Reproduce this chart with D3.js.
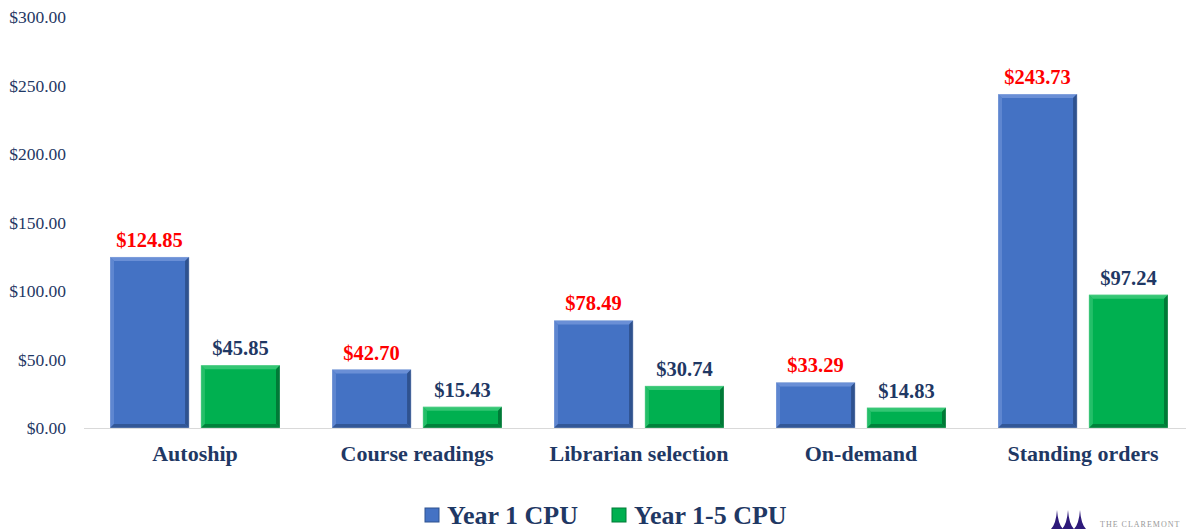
<!DOCTYPE html>
<html><head><meta charset="utf-8">
<script src="https://cdn.jsdelivr.net/npm/d3@7"></script>
<style>
html,body{margin:0;padding:0;background:#fff;}
svg{display:block;font-family:"Liberation Serif","Times New Roman",serif;}
</style></head><body>
<svg id="chart" width="1186" height="529"></svg>
<script>
const categories = ["Autoship","Course readings","Librarian selection","On-demand","Standing orders"];
const seriesNames = ["Year 1 CPU","Year 1-5 CPU"];
const year1 = [124.85, 42.70, 78.49, 33.29, 243.73];
const year15 = [45.85, 15.43, 30.74, 14.83, 97.24];
const yTicks = [0, 50, 100, 150, 200, 250, 300];

const svg = d3.select("#chart");
const W = 1186, H = 529;
const navy = "#1F3864";
const colors = ["#4472C4", "#00B050"];
const darks = ["#2F528F", "#007A37"];
const lights = ["#6A8FD6", "#33C673"];
const labelColors = ["#FF0000", navy];

const x0 = d3.scaleBand().domain(categories).range([84, 1194]).paddingInner(0).paddingOuter(0);
const x1 = d3.scaleBand().domain(seriesNames).range([26, x0.bandwidth() - 26]).paddingInner(0.13);
const y = d3.scaleLinear().domain([0, 300]).range([428, 17]);

// y axis labels
svg.append("g").selectAll("text").data(yTicks).join("text")
  .attr("x", 66).attr("y", d => y(d)).attr("dy", "0.35em")
  .attr("text-anchor", "end").attr("font-size", 17.5).attr("fill", navy)
  .text(d => "$" + d3.format(".2f")(d));

// baseline
svg.append("line").attr("x1", 84).attr("x2", W).attr("y1", y(0) + 0.5).attr("y2", y(0) + 0.5)
  .attr("stroke", "#D9D9D9").attr("stroke-width", 1);

const data = categories.map((c, i) => ({cat: c, vals: [year1[i], year15[i]]}));
const groups = svg.append("g").selectAll("g").data(data).join("g")
  .attr("transform", d => `translate(${x0(d.cat)},0)`);

const b = 4;
groups.each(function(d) {
  const g = d3.select(this);
  d.vals.forEach((v, si) => {
    const bx = x1(seriesNames[si]), bw = x1.bandwidth();
    const by = y(v), bh = y(0) - y(v);
    const bg = g.append("g");
    bg.append("rect").attr("x", bx).attr("y", by).attr("width", bw).attr("height", bh)
      .attr("fill", colors[si]);
    const L = bx, R = bx + bw, T = by, B = by + bh;
    bg.append("polygon").attr("points", [[L,T],[R,T],[R-b,T+b],[L+b,T+b]].join(" "))
      .attr("fill", lights[si]);
    bg.append("polygon").attr("points", [[L,T],[L+b,T+b],[L+b,B-b],[L,B]].join(" "))
      .attr("fill", lights[si]).attr("opacity", 0.7);
    bg.append("polygon").attr("points", [[R,T],[R,B],[R-b,B-b],[R-b,T+b]].join(" "))
      .attr("fill", darks[si]);
    bg.append("polygon").attr("points", [[L,B],[R,B],[R-b,B-b],[L+b,B-b]].join(" "))
      .attr("fill", darks[si]).attr("opacity", 0.85);
    bg.append("rect").attr("x", bx).attr("y", by).attr("width", bw).attr("height", bh)
      .attr("fill", "none").attr("stroke", "#fff").attr("stroke-opacity", 0.35).attr("stroke-width", 0.8);
    g.append("text").attr("x", bx + bw / 2).attr("y", by - 10)
      .attr("text-anchor", "middle").attr("font-size", 20.5).attr("font-weight", "bold")
      .attr("fill", labelColors[si]).text("$" + d3.format(".2f")(v));
  });
  g.append("text").attr("x", x0.bandwidth() / 2).attr("y", 461)
    .attr("text-anchor", "middle").attr("font-size", 22).attr("font-weight", "bold")
    .attr("fill", navy).text(d.cat);
});

// legend
const legendX = [425, 612];
const leg = svg.append("g").selectAll("g").data(seriesNames).join("g")
  .attr("transform", (d, i) => `translate(${legendX[i]},0)`);
leg.append("rect").attr("x", 0).attr("y", 508).attr("width", 14).attr("height", 14)
  .attr("fill", (d, i) => colors[i]).attr("stroke", (d, i) => darks[i]).attr("stroke-width", 1);
leg.append("text").attr("x", 22).attr("y", 524).attr("font-size", 26).attr("font-weight", "bold")
  .attr("fill", navy).text(d => d);

// logo fragment (bottom-right)
const logo = svg.append("g").attr("fill", "#2E1A7A");
const spires = [1057, 1068, 1080];
spires.forEach(sx => {
  logo.append("path").attr("d", `M${sx-6},529 Q${sx-1},524 ${sx},510 Q${sx+1},524 ${sx+6},529 Z`);
});
svg.append("text").attr("x", 1100).attr("y", 527).attr("font-size", 8).attr("fill", "#999")
  .attr("letter-spacing", 1).text("THE CLAREMONT");
</script>
</body></html>
